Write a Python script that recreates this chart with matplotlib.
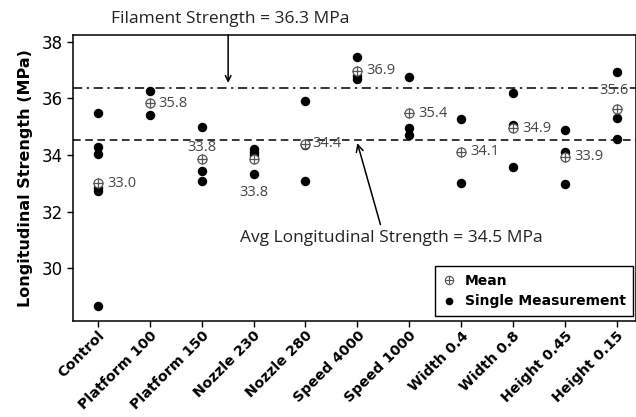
import matplotlib
matplotlib.use("Agg")
import matplotlib.pyplot as plt
import numpy as np
from matplotlib.legend_handler import HandlerTuple

categories = ["Control", "Platform 100", "Platform 150", "Nozzle 230", "Nozzle 280",
              "Speed 4000", "Speed 1000", "Width 0.4", "Width 0.8", "Height 0.45", "Height 0.15"]
tick_labels = ["Control", "Platform 100", "Platform 150", "Nozzle 230", "Nozzle 280",
               "Speed 4000", "Speed 1000", "Width 0.4", "Width 0.8", "Height 0.45", "Height 0.15"]

measurements = [
    [35.47, 34.29, 34.04, 32.85, 32.73, 28.67],
    [36.27, 35.42],
    [35.00, 33.45, 33.09],
    [34.22, 34.10, 34.00, 33.32],
    [35.90, 34.35, 33.08],
    [37.47, 36.78, 36.68],
    [36.76, 34.97, 34.72],
    [35.26, 33.00],
    [36.18, 35.06, 33.59],
    [34.88, 34.10, 32.97],
    [36.94, 35.30, 34.55],
]
means = [33.0, 35.8, 33.8, 33.8, 34.4, 36.9, 35.4, 34.1, 34.9, 33.9, 35.6]
mean_positions = [33.0, 35.83, 33.86, 33.85, 34.4, 36.97, 35.47, 34.12, 34.94, 33.94, 35.62]

filament_strength = 36.3
avg_strength = 34.5

# label offsets in pixels (layout only)
label_offsets = [(9, 0, 'left'), (9, 0, 'left'), (0, 12, 'center'), (0, -33, 'center'),
                 (7, 0, 'left'), (9, 0, 'left'), (9, 0, 'left'), (9, 0, 'left'),
                 (9, 0, 'left'), (9, 0, 'left'), (-3, 19, 'center')]

fig = plt.figure(figsize=(6.36, 4.17), dpi=100)
ax = fig.add_axes([73/636, 1-321/417, 1-73/636, (321-35)/417])

x = np.arange(len(categories))
for i, vals in enumerate(measurements):
    ax.plot([i]*len(vals), vals, 'o', color='black', markersize=5.8, zorder=3)

ax.plot(x, mean_positions, 'o', mfc='white', mec='#555555', mew=0.9, markersize=6.5, zorder=4)
ax.plot(x, mean_positions, '+', color='#555555', mew=0.9, markersize=6.5, zorder=5)

for i, m in enumerate(means):
    dx, dy, ha = label_offsets[i]
    ax.annotate(f"{m:.1f}", (x[i], mean_positions[i]), xytext=(dx, dy),
                textcoords='offset pixels', ha=ha, va='center', fontsize=10.5,
                color='#444444', family='Open Sans', zorder=6)

ax.axhline(filament_strength + 0.06, color='black', lw=1.1, ls=(0, (6, 3, 1.5, 3)), zorder=2)
ax.axhline(avg_strength + 0.03, color='black', lw=1.1, ls=(0, (5, 3)), zorder=2)

ax.text(2.546, 38.8, f"Filament Strength = {filament_strength} MPa", ha='center', va='center',
        fontsize=12.5, family='Open Sans', color='#222222', clip_on=False)
ax.annotate("", xy=(2.51, 36.55), xytext=(2.51, 38.24), annotation_clip=False,
            arrowprops=dict(arrowstyle='->', color='black', lw=1.1, shrinkA=0, shrinkB=0))
ax.annotate(f"Avg Longitudinal Strength = {avg_strength} MPa", xy=(5.0, 34.42),
            xytext=(5.65, 31.07), ha='center', va='center', fontsize=12.5,
            family='Open Sans', color='#222222',
            arrowprops=dict(arrowstyle='->', color='black', lw=1.1,
                            shrinkA=2, shrinkB=0, relpos=(0.47, 1.0)))

ax.set_xlim(-0.48, 10.37)
ax.set_ylim(28.14, 38.24)
ax.set_yticks([30, 32, 34, 36, 38])
ax.tick_params(axis='y', labelsize=12, length=4, width=1)
ax.set_xticks(x)
ax.set_xticklabels(tick_labels, rotation=45, ha='right', rotation_mode='anchor',
                   fontsize=10.3, fontweight='bold')
ax.tick_params(axis='x', length=4, width=1, pad=1.5)
ax.set_ylabel("Longitudinal Strength (MPa)", fontsize=11.5, fontweight='bold', labelpad=6)
for s in ax.spines.values():
    s.set_linewidth(1.1)

h_mean = (plt.Line2D([], [], marker='o', ls='', mfc='white', mec='#555555', mew=0.8, markersize=6),
          plt.Line2D([], [], marker='+', ls='', color='#555555', mew=0.8, markersize=6))
h_single = plt.Line2D([], [], marker='o', ls='', color='black', markersize=4.5)
leg = ax.legend([h_mean, h_single], ["Mean", "Single Measurement"],
                handler_map={tuple: HandlerTuple(ndivide=1)},
                loc='lower right', bbox_to_anchor=(0.995, 0.017), borderaxespad=0,
                fancybox=False, edgecolor='black', framealpha=1,
                prop={'weight': 'bold', 'size': 10},
                handlelength=1.0, handletextpad=0.6, borderpad=0.55, labelspacing=0.5)
leg.get_frame().set_linewidth(1.0)

fig.savefig("out.png", dpi=100)
